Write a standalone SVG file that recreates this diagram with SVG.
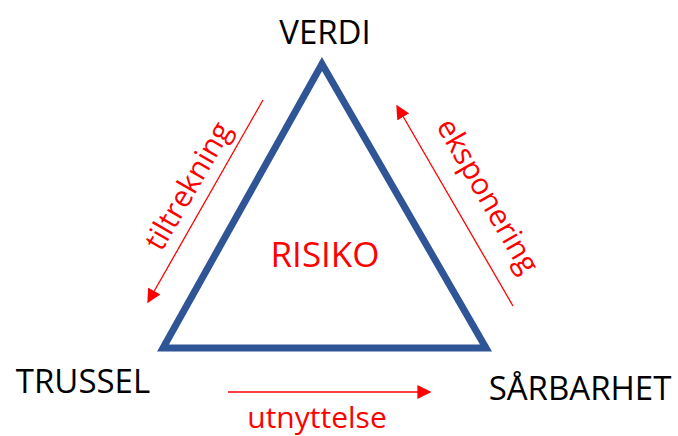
<svg xmlns="http://www.w3.org/2000/svg" width="678" height="436" viewBox="0 0 678 436">
  <style>
    .label { font-family: "Open Sans", "Liberation Sans", sans-serif; fill: #000000; font-size: 33px; }
    .red { font-family: "Open Sans", "Liberation Sans", sans-serif; fill: #FF0000; font-size: 30px; }
    .center { font-size: 35px; }
    .arrow { stroke: #FF0000; stroke-width: 1.3; fill: none; marker-end: url(#head); }
  </style>
  <defs>
    <marker id="head" viewBox="0 0 10 10" refX="9" refY="5" markerWidth="14" markerHeight="14" markerUnits="userSpaceOnUse" orient="auto">
      <path d="M0,0 L10,5 L0,10 Z" fill="#FF0000"/>
    </marker>
  </defs>

  <g id="triangle">
    <polygon points="322,64 163,348 486,348" fill="#FFFFFF" stroke="#2F5597" stroke-width="7" stroke-linejoin="miter"/>
    <text class="red center" x="325" y="267" text-anchor="middle">RISIKO</text>
  </g>

  <g id="verdi">
    <text class="label" x="325" y="44" text-anchor="middle">VERDI</text>
  </g>
  <g id="trussel">
    <text class="label" x="83" y="393" text-anchor="middle">TRUSSEL</text>
  </g>
  <g id="sarbarhet">
    <text class="label" x="580" y="400" text-anchor="middle">SÅRBARHET</text>
  </g>

  <g id="connectors">
    <line class="arrow" x1="263" y1="100" x2="148" y2="302"/>
    <line class="arrow" x1="513" y1="306" x2="397" y2="106"/>
    <line class="arrow" x1="228" y1="392" x2="430" y2="392"/>
    <text class="red" text-anchor="middle" transform="translate(197,191) rotate(-60)">tiltrekning</text>
    <text class="red" text-anchor="middle" transform="translate(479,201) rotate(60)">eksponering</text>
    <text class="red" x="317" y="428" text-anchor="middle">utnyttelse</text>
  </g>
</svg>
